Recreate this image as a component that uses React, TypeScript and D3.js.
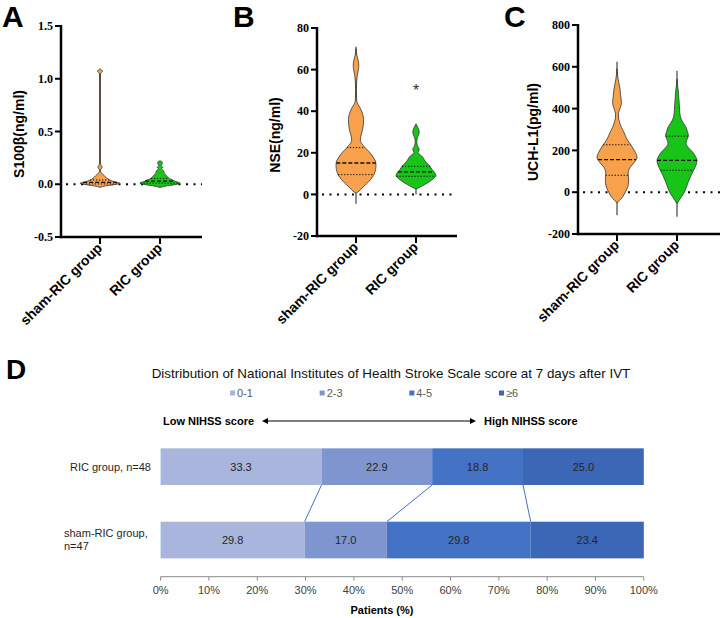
import React from 'react';
import * as d3 from 'd3';

const W = 720;
const H = 618;

const GROUPS = ['sham-RIC group', 'RIC group'];
const GROUP_FILL = ['#F8A14C', '#17C417'];

// violin outlines as [value, relative half-width]
const S100_SHAM: [number, number][] = [
  [-0.028, 0], [-0.015, 0.3], [0.0, 0.8], [0.01, 1.0], [0.02, 0.8], [0.035, 0.55], [0.05, 0.4],
  [0.065, 0.3], [0.08, 0.22], [0.095, 0.14], [0.11, 0.05], [0.13, 0.02], [0.15, 0.07],
  [0.164, 0.11], [0.178, 0.06], [0.2, 0.02], [1.045, 0.02], [1.07, 0.12], [1.095, 0],
];
const S100_RIC: [number, number][] = [
  [-0.03, 0], [-0.015, 0.35], [0.0, 0.85], [0.012, 1.0], [0.025, 0.8], [0.04, 0.65], [0.055, 0.45],
  [0.07, 0.38], [0.085, 0.3], [0.1, 0.22], [0.115, 0.2], [0.13, 0.17], [0.145, 0.07],
  [0.16, 0.14], [0.175, 0.06], [0.19, 0.1], [0.205, 0.12], [0.222, 0],
];
const NSE_SHAM: [number, number][] = [
  [0.5, 0], [2, 0.2], [4, 0.4], [6, 0.62], [8, 0.8], [10, 0.92], [12, 0.98], [14, 1.0], [16, 0.97],
  [18, 0.85], [20, 0.7], [22, 0.5], [24, 0.32], [26, 0.22], [28, 0.24], [30, 0.3], [33, 0.36],
  [36, 0.38], [39, 0.32], [42, 0.18], [44, 0.06], [46, 0.03], [50, 0.02], [54, 0.03], [57, 0.06],
  [60, 0.12], [62, 0.14], [64, 0.12], [67, 0.04], [70, 0.01],
];
const NSE_RIC: [number, number][] = [
  [2.5, 0], [4, 0.3], [6, 0.65], [8, 0.92], [9, 1.0], [10.5, 0.93], [12, 0.8], [13.5, 0.7],
  [15, 0.55], [16.5, 0.42], [18, 0.33], [19, 0.22], [20, 0.1], [21.7, 0.16], [23.3, 0.08],
  [25, 0.04], [27, 0.06], [28.5, 0.13], [30.2, 0.16], [32, 0.1], [33.5, 0.02],
];
const UCH_SHAM: [number, number][] = [
  [-50, 0], [-30, 0.22], [-10, 0.36], [10, 0.47], [30, 0.55], [50, 0.58], [70, 0.58], [90, 0.56],
  [110, 0.6], [130, 0.75], [150, 0.92], [168, 1.0], [190, 0.92], [210, 0.8], [230, 0.67],
  [250, 0.52], [270, 0.42], [290, 0.33], [310, 0.22], [335, 0.13], [355, 0.08], [375, 0.07],
  [395, 0.13], [415, 0.2], [430, 0.22], [450, 0.2], [475, 0.17], [495, 0.15], [520, 0.1],
  [545, 0.05], [570, 0.02], [590, 0.005],
];
const UCH_RIC: [number, number][] = [
  [-55, 0], [-40, 0.1], [-25, 0.2], [0, 0.37], [25, 0.47], [50, 0.57], [80, 0.7], [105, 0.83],
  [130, 0.95], [152, 1.0], [172, 0.92], [192, 0.78], [212, 0.58], [233, 0.45], [252, 0.5],
  [271, 0.57], [290, 0.52], [311, 0.45], [330, 0.32], [351, 0.2], [380, 0.14], [414, 0.12],
  [450, 0.09], [480, 0.07], [510, 0.03], [540, 0.01],
];

// [q1, median, q3] per group
const S100_QUART = [[0.003, 0.018, 0.04], [0.01, 0.03, 0.055]];
const NSE_QUART = [[9.5, 15.1, 22.5], [8.7, 10.8, 13.5]];
const UCH_QUART = [[81, 156, 227], [105, 152, 268]];

// [min, max] per group
const S100_RANGE = [[-0.028, 1.07], [-0.03, 0.222]];
const NSE_RANGE = [[-4.5, 71], [0, 34]];
const UCH_RANGE = [[-110, 624], [-117, 581]];

const S100_TICKS = [-0.5, 0, 0.5, 1.0, 1.5];
const NSE_TICKS = [-20, 0, 20, 40, 60, 80];
const UCH_TICKS = [-200, 0, 200, 400, 600, 800];

const PANELS = [
  {
    letter: 'A', letterX: 2, label: 'S100β(ng/ml)', labelX: 19, labelY: 134, fmt: '.1f',
    ticks: S100_TICKS, left: 61, axisEnd: 202, top: 26, bottom: 237,
    shapes: [S100_SHAM, S100_RIC], quart: S100_QUART, range: S100_RANGE,
  },
  {
    letter: 'B', letterX: 233, label: 'NSE(ng/ml)', labelX: 275, labelY: 135, fmt: 'd',
    ticks: NSE_TICKS, left: 317, axisEnd: 457, top: 28, bottom: 236,
    shapes: [NSE_SHAM, NSE_RIC], quart: NSE_QUART, range: NSE_RANGE, star: 50,
  },
  {
    letter: 'C', letterX: 504, label: 'UCH-L1(pg/ml)', labelX: 533, labelY: 132, fmt: 'd',
    ticks: UCH_TICKS, left: 578, axisEnd: 720, top: 25, bottom: 234,
    shapes: [UCH_SHAM, UCH_RIC], quart: UCH_QUART, range: UCH_RANGE,
  },
];

// NIHSS distribution at day 7
const NIHSS_BANDS = ['0-1', '2-3', '4-5', '≥6'];
const BAND_COLORS = ['#A9B5DC', '#7F95CF', '#4472C4', '#3B67B6'];
const ROWS = ['RIC group, n=48', 'sham-RIC group, n=47'];
const ROW_LINES = [['RIC group, n=48'], ['sham-RIC group,', 'n=47']];
const RIC_PCT = [33.3, 22.9, 18.8, 25.0];
const SHAM_PCT = [29.8, 17.0, 29.8, 23.4];
const PCT_TICKS = [0, 10, 20, 30, 40, 50, 60, 70, 80, 90, 100];

const SANS = "'Liberation Sans', Arial, sans-serif";
const SERIF = "'Liberation Serif', 'Times New Roman', serif";

function ViolinPanel({ p }: { p: any }) {
  const y = d3.scaleLinear().domain([p.ticks[0], p.ticks[p.ticks.length - 1]]).range([p.bottom, p.top]);
  const x = d3.scalePoint<string>().domain(GROUPS).range([p.left + 39, p.left + 99]);
  const w = d3.scaleLinear().domain([0, 1]).range([0, 20]);
  const base = d3.format(p.fmt);
  const fmt = (t: number) => base(t).replace('−', '-');

  return (
    <g>
      <text x={p.letterX} y={27} fontSize={30} fontWeight="bold" fontFamily={SANS}>{p.letter}</text>

      <line x1={p.left + 5} x2={p.axisEnd} y1={y(0)} y2={y(0)} stroke="#000" strokeWidth={2}
        strokeDasharray="2,5.5" />

      {GROUPS.map((g, i) => {
        const cx = x(g) as number;
        const shape = p.shapes[i] as [number, number][];
        const half = d3.scaleLinear().domain(shape.map((d) => d[0])).range(shape.map((d) => d[1])).clamp(true);
        const area = d3.area<[number, number]>()
          .y((d) => y(d[0]))
          .x0((d) => cx - w(d[1]))
          .x1((d) => cx + w(d[1]))
          .curve(d3.curveMonotoneY);
        const [lo, hi] = p.range[i];
        return (
          <g key={g}>
            <line x1={cx} x2={cx} y1={y(lo)} y2={y(hi)} stroke="#444" strokeWidth={1.2} />
            <path d={area(shape) || ''} fill={GROUP_FILL[i]} stroke="#333" strokeWidth={0.8} />
            {p.quart[i].map((q: number, k: number) => (
              <line key={k} x1={cx - w(half(q))} x2={cx + w(half(q))} y1={y(q)} y2={y(q)}
                stroke="#111" strokeWidth={k === 1 ? 1.3 : 1}
                strokeDasharray={k === 1 ? '4,2' : '1.3,1.7'} />
            ))}
          </g>
        );
      })}

      {p.star != null && (
        <text x={x(GROUPS[1])} y={y(p.star) + 6} textAnchor="middle" fontSize={16} fill="#333"
          fontFamily={SANS}>*</text>
      )}

      {/* axes */}
      <line x1={p.left} x2={p.left} y1={p.top - 1} y2={p.bottom + 1.2} stroke="#000" strokeWidth={2.5} />
      <line x1={p.left - 1.2} x2={p.axisEnd} y1={p.bottom} y2={p.bottom} stroke="#000" strokeWidth={2.5} />
      {p.ticks.map((t: number) => (
        <g key={t}>
          <line x1={p.left - 6} x2={p.left} y1={y(t)} y2={y(t)} stroke="#000" strokeWidth={2} />
          <text x={p.left - 8} y={y(t)} dy="0.35em" textAnchor="end" fontSize={12} fontWeight="bold"
            fontFamily={SERIF}>{fmt(t)}</text>
        </g>
      ))}
      {GROUPS.map((g) => (
        <g key={g}>
          <line x1={x(g)} x2={x(g)} y1={p.bottom} y2={p.bottom + 7} stroke="#000" strokeWidth={2} />
          <text transform={`translate(${(x(g) as number) + 3},${p.bottom + 12}) rotate(-45)`}
            textAnchor="end" fontSize={14} fontWeight="bold" fontFamily={SANS}>{g}</text>
        </g>
      ))}
      <text transform={`translate(${p.labelX},${p.labelY}) rotate(-90)`} textAnchor="middle" dy="0.35em"
        fontSize={14} fontWeight="bold" fontFamily={SANS}>{p.label}</text>
    </g>
  );
}

function NihssPanel() {
  const x = d3.scaleLinear().domain([0, 100]).range([160.6, 643.8]);
  const y = d3.scaleBand<string>().domain(ROWS).range([430, 576.7]).paddingInner(0.5).paddingOuter(0.25);
  const legendX = d3.scalePoint<string>().domain(NIHSS_BANDS).range([230, 499]);

  const table = ROWS.map((r, i) => {
    const vals = i === 0 ? RIC_PCT : SHAM_PCT;
    const row: any = { row: r };
    NIHSS_BANDS.forEach((b, j) => { row[b] = vals[j]; });
    return row;
  });
  const series = d3.stack<any>().keys(NIHSS_BANDS)(table);
  const axisY = 576.7;
  const arrowY = 421;

  return (
    <g fontFamily={SANS}>
      <text x={6} y={379} fontSize={28} fontWeight="bold">D</text>
      <text x={391} y={378} textAnchor="middle" fontSize={13.4} fill="#111">
        Distribution of National Institutes of Health Stroke Scale score at 7 days after IVT
      </text>

      {NIHSS_BANDS.map((b, i) => (
        <g key={b}>
          <rect x={legendX(b)} y={390.5} width={5} height={5} fill={BAND_COLORS[i]} />
          <text x={(legendX(b) as number) + 7} y={393} dy="0.35em" fontSize={11} fill="#595959">{b}</text>
        </g>
      ))}

      <text x={163} y={arrowY} dy="0.35em" fontSize={11} fontWeight="bold">Low NIHSS score</text>
      <line x1={266} x2={472} y1={arrowY} y2={arrowY} stroke="#000" strokeWidth={1.2} />
      <path d={`M262,${arrowY}L268,${arrowY - 3}L268,${arrowY + 3}Z`} fill="#000" />
      <path d={`M476,${arrowY}L470,${arrowY - 3}L470,${arrowY + 3}Z`} fill="#000" />
      <text x={484} y={arrowY} dy="0.35em" fontSize={11} fontWeight="bold">High NIHSS score</text>

      {series.map((s, j) => (
        <g key={s.key}>
          {s.map((d, i) => (
            <g key={i}>
              <rect x={x(d[0])} y={y(ROWS[i])} width={x(d[1]) - x(d[0])} height={y.bandwidth()}
                fill={BAND_COLORS[j]} />
              <text x={(x(d[0]) + x(d[1])) / 2} y={(y(ROWS[i]) as number) + y.bandwidth() / 2} dy="0.35em"
                textAnchor="middle" fontSize={11} fill="#262626">{(d[1] - d[0]).toFixed(1)}</text>
            </g>
          ))}
        </g>
      ))}

      {/* links between cumulative boundaries */}
      {series.slice(0, -1).map((s) => (
        <line key={s.key} x1={x(s[0][1])} y1={(y(ROWS[0]) as number) + y.bandwidth()}
          x2={x(s[1][1])} y2={y(ROWS[1])} stroke="#4472C4" strokeWidth={1} />
      ))}

      {ROWS.map((r, i) => {
        const lines = ROW_LINES[i];
        const cy = (y(r) as number) + y.bandwidth() / 2;
        if (lines.length === 1) {
          return <text key={r} x={151} y={cy} dy="0.35em" textAnchor="end" fontSize={11} fill="#262626">{lines[0]}</text>;
        }
        return (
          <text key={r} x={64} y={cy - 6.5} fontSize={11} fill="#262626">
            {lines.map((l, k) => <tspan key={k} x={64} y={cy - 6.5 + k * 13} dy="0.35em">{l}</tspan>)}
          </text>
        );
      })}

      <line x1={x(0)} x2={x(100)} y1={axisY} y2={axisY} stroke="#8c8c8c" strokeWidth={1} />
      {PCT_TICKS.map((t) => (
        <g key={t}>
          <line x1={x(t)} x2={x(t)} y1={axisY} y2={axisY + 4} stroke="#8c8c8c" strokeWidth={1} />
          <text x={x(t)} y={590} dy="0.35em" textAnchor="middle" fontSize={11} fill="#404040">{t}%</text>
        </g>
      ))}
      <text x={382} y={610.5} dy="0.35em" textAnchor="middle" fontSize={11} fontWeight="bold">Patients (%)</text>
    </g>
  );
}

export default function App() {
  return (
    <div style={{ position: 'absolute', left: 0, top: 0 }}>
      <svg width={W} height={H} style={{ display: 'block', background: '#fff' }}>
        {PANELS.map((p) => <ViolinPanel key={p.letter} p={p} />)}
        <NihssPanel />
      </svg>
    </div>
  );
}
